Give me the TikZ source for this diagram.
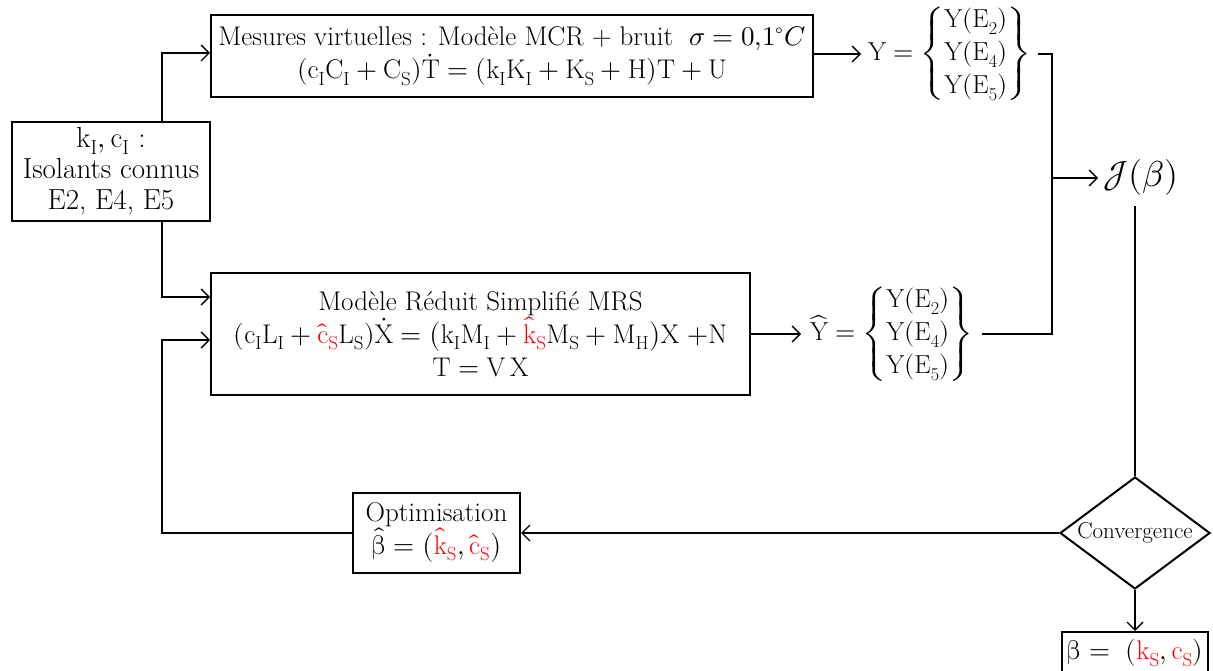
\documentclass[tikz,border=0pt]{standalone}
\usepackage{amsmath}
\usepackage{unicode-math}
\usetikzlibrary{shapes.geometric,arrows.meta,calc}
\begin{document}
\begin{tikzpicture}[x=1pt,y=-1pt,
  box/.style={draw, line width=2pt, align=center, inner sep=0pt, font=\fontsize{27}{33}\selectfont},
  conn/.style={line width=1.3pt},
  arr/.style={conn, -{Straight Barb[length=8pt,width=16pt,line width=1.3pt]}},
  lbl/.style={inner xsep=7pt, inner ysep=0pt, font=\fontsize{26}{33}\selectfont}]
\useasboundingbox (0,0) rectangle (1213,671);
\node[box, minimum width=602pt, minimum height=82pt] (mes) at (512,56)
  {Mesures virtuelles : Modèle MCR + bruit \ $\sigma=0{,}1^\circ C$\\
   $(\mathrm{c_IC_I+C_S})\dot{\mathrm{T}}=(\mathrm{k_IK_I+K_S+H})\mathrm{T+U}$};
\node[box, minimum width=198pt, minimum height=99pt, font=\fontsize{29}{31}\selectfont] (iso) at (111,171.5)
  {$\mathrm{k_I, c_I}$ :\\ Isolants connus\\ E2, E4, E5};
\node[box, minimum width=539pt, minimum height=122pt] (mrs) at (480.5,334)
  {Modèle Réduit Simplifié MRS\\
   $(\mathrm{c_IL_I}+\textcolor{red}{\hat{\mathrm{c}}_{\mathrm{S}}}\mathrm{L_S})\dot{\mathrm{X}}=\big(\mathrm{k_IM_I}+\textcolor{red}{\hat{\mathrm{k}}_{\mathrm{S}}}\mathrm{M_S+M_H}\big)\mathrm{X}\ {+}\mathrm{N}$\\
   $\mathrm{T=V\,X}$};
\node[lbl, anchor=west] (Y) at (861,54)
  {$\mathrm{Y}=\left\{\begin{matrix}\mathrm{Y(E_2)}\\\mathrm{Y(E_4)}\\\mathrm{Y(E_5)}\end{matrix}\right\}$};
\node[lbl, anchor=west, inner xsep=9pt] (Yh) at (801,334)
  {$\widehat{\mathrm{Y}}=\left\{\begin{matrix}\mathrm{Y(E_2)}\\\mathrm{Y(E_4)}\\\mathrm{Y(E_5)}\end{matrix}\right\}$};
\node[inner xsep=5pt, inner ysep=0pt, anchor=west, font=\fontsize{36}{40}\selectfont] (J) at (1098,178) {$\mathcal{J}(\beta)$};
\node[draw, diamond, line width=2pt, shape aspect=1.34, minimum width=150pt, minimum height=112pt,
  inner sep=0pt, font=\fontsize{23}{26}\selectfont] (conv) at (1135,533) {Convergence};
\node[box, minimum width=167pt, minimum height=80pt] (opt) at (436.5,533)
  {Optimisation\\ $\hat{\upbeta}=\big(\textcolor{red}{\hat{\mathrm{k}}_{\mathrm{S}}},\textcolor{red}{\hat{\mathrm{c}}_{\mathrm{S}}}\big)$};
\node[box, minimum width=146pt, minimum height=42pt] (fin) at (1135,653)
  {$\upbeta=\ (\textcolor{red}{\mathrm{k_S}},\textcolor{red}{\mathrm{c_S}})$};
\coordinate (bx) at (162,0);
\coordinate (jx) at (1052,178);
\draw[arr] (iso.north -| bx) |- ($(mes.west)+(0,-3)$);
\draw[arr] (iso.south -| bx) |- ($(mrs.west)+(0,-37)$);
\draw[arr] (opt.west) -| ($(bx |- mrs.west)+(0,6)$) -- ($(mrs.west)+(0,6)$);
\draw[arr] (mes.east |- Y.west) -- (Y.west);
\draw[conn] (Y.east) -| (jx);
\draw[conn] (Yh.east) -| (jx);
\draw[arr] (jx) -- (J.west);
\draw[arr] (mrs.east) -- (Yh.west);
\draw[conn, shorten <=10pt] (J.south -| conv.north) -- (conv.north);
\draw[arr] (conv.west) -- (opt.east);
\draw[arr] (conv.south) -- (fin.north);
\end{tikzpicture}
\end{document}
